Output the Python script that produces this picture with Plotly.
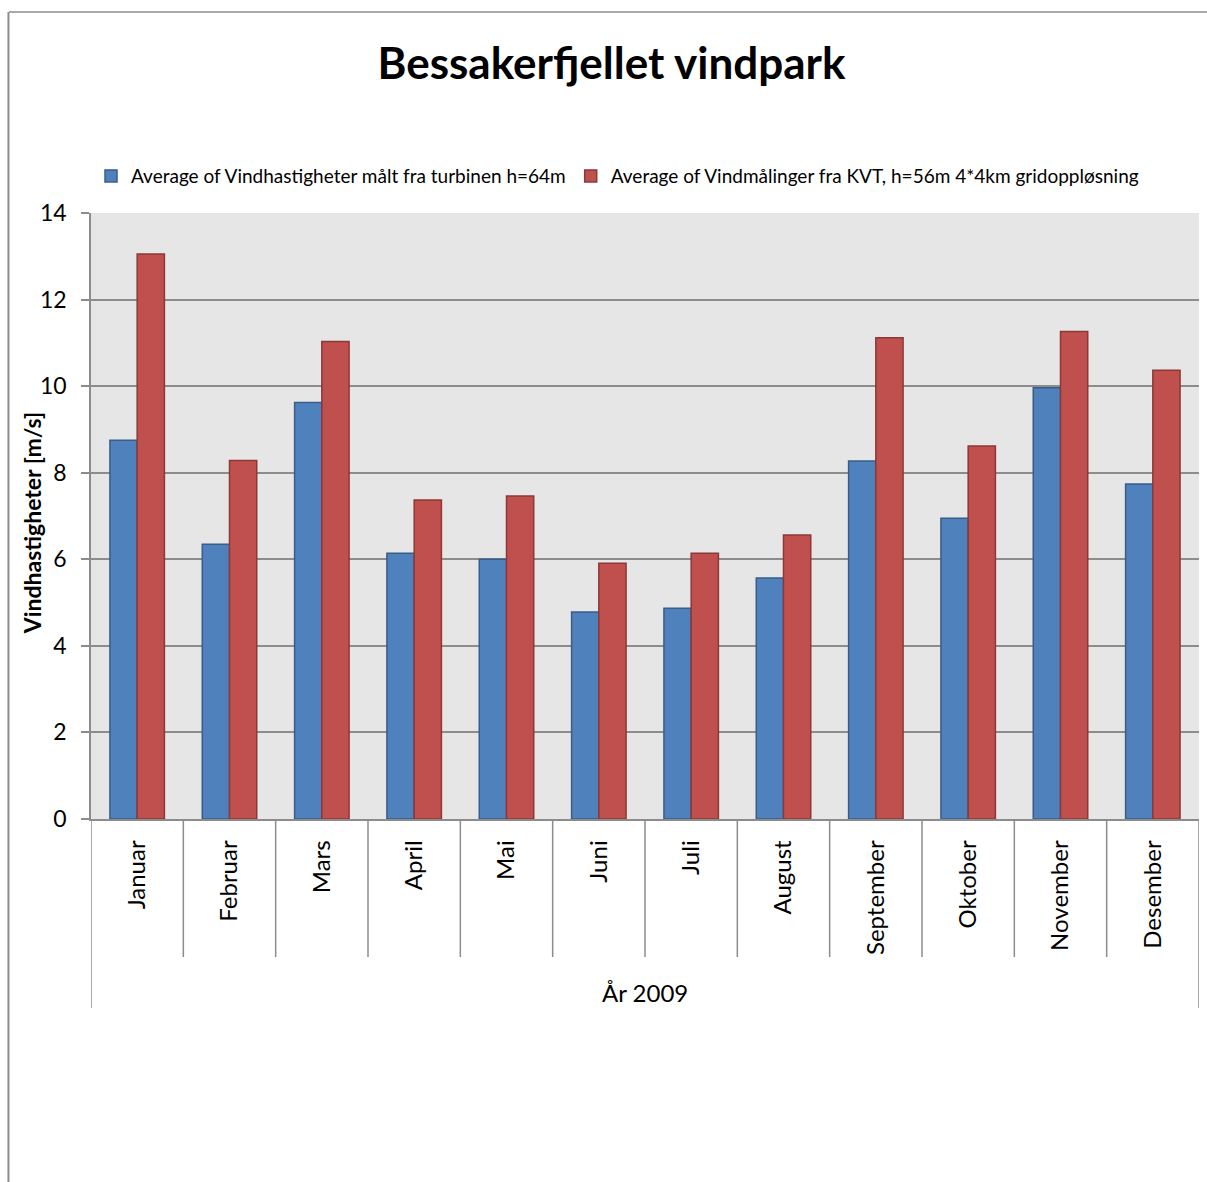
import plotly.graph_objects as go

# Monthly average wind speed, 2009
months = ["Januar", "Februar", "Mars", "April", "Mai", "Juni",
          "Juli", "August", "September", "Oktober", "November", "Desember"]
turbine_64m = [8.75, 6.35, 9.62, 6.14, 6.0, 4.78, 4.87, 5.57, 8.27, 6.95, 9.96, 7.74]
kvt_56m = [13.05, 8.28, 11.03, 7.37, 7.46, 5.91, 6.14, 6.56, 11.12, 8.62, 11.26, 10.37]
y_ticks = [0, 2, 4, 6, 8, 10, 12, 14]

FONT = "Lato, 'Open Sans', sans-serif"
GRID = "#8c8c8c"

fig = go.Figure()
fig.add_trace(go.Bar(
    x=months, y=turbine_64m,
    name="Average of Vindhastigheter målt fra turbinen h=64m",
    marker=dict(color="#4f81bd", line=dict(color="#385d8a", width=1.5)),
))
fig.add_trace(go.Bar(
    x=months, y=kvt_56m,
    name="Average of Vindmålinger fra KVT, h=56m 4*4km gridoppløsning",
    marker=dict(color="#c0504d", line=dict(color="#8c3836", width=1.5)),
))

n = len(months)
shapes = []
# category separators below the axis
for i in range(n + 1):
    edge = i in (0, n)
    shapes.append(dict(
        type="line", xref="x", yref="paper",
        x0=i - 0.5, x1=i - 0.5, y0=0, y1=-0.3119 if edge else -0.2277,
        line=dict(color=GRID, width=1.5),
    ))
# chart frame (top and left edges)
shapes.append(dict(type="line", xref="paper", yref="paper",
                   x0=-0.074, x1=1.02, y0=1.3317, y1=1.3317,
                   line=dict(color="#8c8c8c", width=1.5)))
shapes.append(dict(type="line", xref="paper", yref="paper",
                   x0=-0.0745, x1=-0.0745, y0=1.3317, y1=-0.62,
                   line=dict(color="#8c8c8c", width=2)))

fig.update_layout(
    width=1207, height=1182,
    margin=dict(l=91, r=8, t=213, b=363),
    paper_bgcolor="white", plot_bgcolor="#e6e6e6",
    barmode="group", bargap=0.41, bargroupgap=0,
    font=dict(family=FONT, color="black"),
    title=dict(text="<b>Bessakerfjellet vindpark</b>", x=0.5066, xanchor="center",
               y=0.946, yanchor="middle", font=dict(size=44, family=FONT)),
    legend=dict(orientation="h", x=0.0, xanchor="left", y=1.061, yanchor="middle",
                font=dict(size=19, family=FONT), bgcolor="rgba(0,0,0,0)",
                itemwidth=30, tracegroupgap=0),
    xaxis=dict(
        type="category", tickangle=-90, tickfont=dict(size=24, family=FONT),
        showline=True, linecolor=GRID, linewidth=1.5, ticks="", showgrid=False,
        range=[-0.5, n - 0.5], ticklabelstandoff=10,
    ),
    yaxis=dict(
        range=[0, 14], tickvals=y_ticks, tickfont=dict(size=23, family=FONT),
        showgrid=True, gridcolor=GRID, gridwidth=2,
        showline=True, linecolor=GRID, linewidth=1.5,
        ticks="outside", ticklen=8, tickcolor=GRID, tickwidth=1.5,
        ticklabelstandoff=10,
        zeroline=False,
    ),
    shapes=shapes,
    annotations=[
        dict(text="År 2009", xref="paper", yref="paper", x=0.5, y=-0.2855,
             xanchor="center", yanchor="middle",
             showarrow=False, font=dict(size=24, family=FONT)),
        dict(text="<b>Vindhastigheter [m/s]</b>", xref="paper", yref="paper",
             x=-0.0532, y=0.488, xanchor="center", yanchor="middle", textangle=-90,
             showarrow=False, font=dict(size=23, family=FONT)),
    ],
)

fig.write_html("out.html")
